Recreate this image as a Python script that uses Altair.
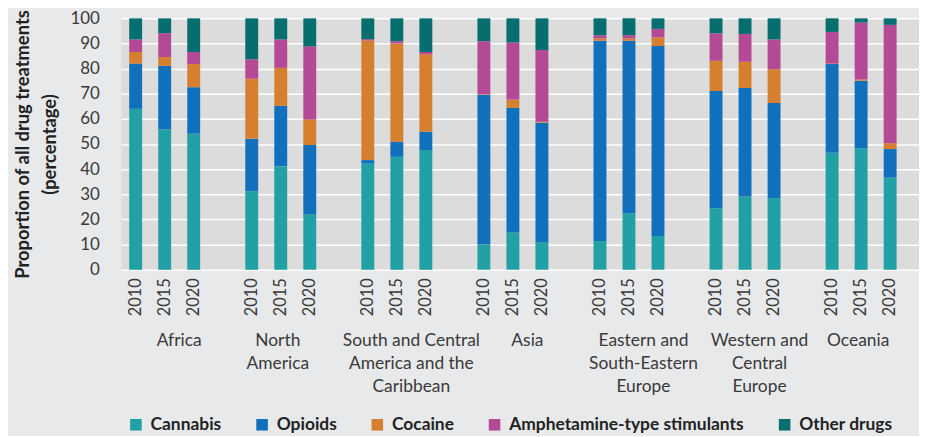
import altair as alt
import pandas as pd

regions = ["Africa", "North America", "South and Central America and the Caribbean", "Asia",
           "Eastern and South-Eastern Europe", "Western and Central Europe", "Oceania"]
region_labels = ["Africa", "North\nAmerica", "South and Central\nAmerica and the\nCaribbean", "Asia",
                 "Eastern and\nSouth-Eastern\nEurope", "Western and\nCentral\nEurope", "Oceania"]
years = ["2010", "2015", "2020"]
drugs = ["Cannabis", "Opioids", "Cocaine", "Amphetamine-type stimulants", "Other drugs"]
colors = ["#21A0A5", "#1070BC", "#D57F2F", "#B44A95", "#066E6E"]

# percentage per region (rows) and year 2010, 2015, 2020 (columns)
cannabis = [[64.0, 55.8, 54.1], [31.2, 41.2, 22.0], [42.3, 44.9, 47.6], [10.1, 14.8, 11.0],
            [11.4, 22.4, 13.4], [24.5, 29.1, 28.5], [46.5, 48.3, 36.6]]
opioids = [[18.0, 25.3, 18.5], [20.9, 24.0, 27.6], [1.3, 6.0, 7.3], [59.5, 49.6, 47.5],
           [79.7, 68.7, 75.6], [46.6, 43.2, 37.8], [35.3, 26.9, 11.4]]
cocaine = [[4.6, 3.5, 9.2], [23.9, 15.1, 10.2], [47.6, 39.1, 30.8], [0.2, 3.3, 0.4],
           [0.9, 0.9, 3.4], [12.0, 10.4, 13.5], [0.2, 0.5, 2.3]]
ats = [[5.0, 9.5, 4.8], [7.7, 11.3, 29.0], [0.5, 0.9, 0.9], [21.1, 22.7, 28.5],
       [1.3, 1.3, 3.4], [10.9, 11.1, 11.8], [12.6, 22.6, 47.1]]
other = [[8.4, 5.9, 13.4], [16.3, 8.4, 11.2], [8.3, 9.1, 13.4], [9.1, 9.6, 12.6],
         [6.7, 6.7, 4.2], [6.0, 6.2, 8.4], [5.4, 1.7, 2.6]]

series = [cannabis, opioids, cocaine, ats, other]

rows = []
for di, (drug, vals) in enumerate(zip(drugs, series)):
    for ri, region in enumerate(regions):
        for yi, year in enumerate(years):
            rows.append({"key": f"{region}|{year}", "drug": drug, "idx": di, "value": vals[ri][yi]})
df = pd.DataFrame(rows)

domain = []
for ri, region in enumerate(regions):
    domain += [f"{region}|{y}" for y in years]
    if ri < len(regions) - 1:
        domain.append(f"gap{ri}")

FONT = "Lato"
TXT = "#3a3a3a"

xscale = alt.Scale(domain=domain, paddingInner=0.555, paddingOuter=0.523, align=0.262, round=False)
xaxis = alt.Axis(title=None, labelExpr="indexof(datum.value, 'gap') == 0 ? '' : slice(datum.value, -4)",
                 labelAngle=-90, labelPadding=8, ticks=False, domain=False, grid=False,
                 labelFontSize=16.5, labelFont=FONT, labelColor=TXT)

bars = alt.Chart(df).mark_bar().encode(
    x=alt.X("key:N", scale=xscale, sort=domain, axis=xaxis),
    y=alt.Y("value:Q", stack="zero", scale=alt.Scale(domain=[0, 100], nice=False),
            axis=alt.Axis(values=list(range(0, 101, 10)),
                          title=["Proportion of all drug treatments", "(percentage)"],
                          titleFontSize=18.5, titleFont=FONT, titleFontWeight="bold", titleColor="#222",
                          titleLineHeight=27, titlePadding=11,
                          labelFontSize=17, labelFont=FONT, labelColor=TXT, labelPadding=22,
                          ticks=False, domain=False, gridColor="white", gridWidth=1.5)),
    color=alt.Color("drug:N", scale=alt.Scale(domain=drugs, range=colors),
                    legend=alt.Legend(title=None, orient="none", legendX=6, legendY=400,
                                      direction="horizontal", columns=5, symbolType="square",
                                      symbolSize=135, symbolStrokeWidth=0, labelFontSize=17.5,
                                      labelFont=FONT, labelFontWeight="bold", labelColor="#222",
                                      columnPadding=32, labelOffset=6, labelLimit=400, padding=0)),
    order=alt.Order("idx:Q", sort="ascending"),
)

centered = ["North America", "Oceania"]
lab_half = pd.DataFrame({"key": [f"{r}|2015" for r in regions if r not in centered],
                         "label": [l for r, l in zip(regions, region_labels) if r not in centered]})
lab_mid = pd.DataFrame({"key": [f"{r}|2015" for r in regions if r in centered],
                        "label": [l for r, l in zip(regions, region_labels) if r in centered]})

def text_layer(d, dx):
    return alt.Chart(d).mark_text(align="center", baseline="alphabetic", lineBreak="\n",
                                  fontSize=17.5, font=FONT, color=TXT, lineHeight=23, dx=dx).encode(
        x=alt.X("key:N", scale=xscale, sort=domain, axis=xaxis),
        y=alt.value(330),
        text="label:N",
    )

chart = alt.layer(bars, text_layer(lab_half, 14.6), text_layer(lab_mid, -3)).properties(
    width=803, height=253,
    padding={"left": 114, "top": 9, "right": 0, "bottom": 166},
    autosize=alt.AutoSizeParams(type="none"),
    background="#E8E9EB",
).configure_view(fill="#DCDCDC", stroke=None)

chart.save("out.html", embed_options={"renderer": "svg", "actions": False})
